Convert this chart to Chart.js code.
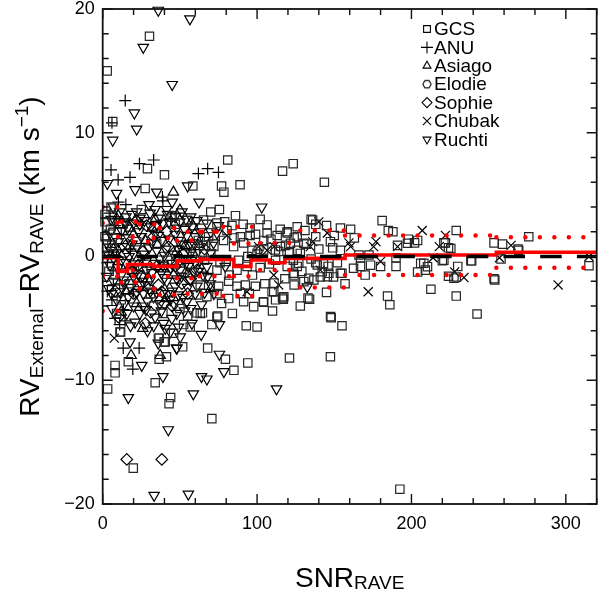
<!DOCTYPE html>
<html lang="en">
<head>
  <meta charset="UTF-8" />
  <title>RV external - RV RAVE vs SNR</title>
  <script src="https://cdn.jsdelivr.net/npm/chart.js@4.4.0/dist/chart.umd.min.js"></script>
  <style>
    html, body { margin: 0; padding: 0; background: #fff; }
  </style>
</head>
<body>
  <canvas id="rvChart" width="614" height="592"></canvas>

  <script>
    // [SNR_RAVE, RV_external - RV_RAVE] per external catalogue
    const gcs = [
      [30.3,17.8],[2.9,15.0],[6.5,10.9],[81,7.8],[29,7.1],[116.5,6.9],[123.4,7.5],[40,6.6],[58.4,5.7],[89,5.8],
      [77,5.7],[78.5,5.2],[27.5,5.5],[75.6,3.8],[135,3.0],[5.4,4.0],[1.5,3.4],[143.6,6.0],
      [136,2.95],[181,2.9],[188,2.0],[229,2.1],[276,1.6],[253.5,1.1],[259,1.0],[269.5,0.5],[315,-0.75],[253.5,-1.8],
      [258,-0.2],[229,-1.65],[224,0.7],[221,1.1],[212.6,-2.65],[221,-0.3],[239,-0.35],[229,-3.2],[184.5,-3.2],
      [206,-0.55],[204,-1.25],[202,1.1],[198,1.4],[191,0.9],[180,-0.8],[190,-0.1],
      [134,-3.45],[186,-3.9],[242.5,-4.65],[148,-4.95],[155,-5.6],[147.5,-8.1],[192.5,-18.8],
      [93,-5.6],[100,-5.7],[121,-8.2],[94,-8.6],[85,-9.2],[79.5,-8.3],[68,-7.4],[70.7,-13.1],[44,-11.4],[43,-11.9],
      [34,-10.2],[3.2,-10.7],[8,-9.4],[8,-8.8],[19.8,-17.1],[16.6,-8.5],[11.6,-6.1],[36.6,-8.3],[41.3,-8.1],
      [36.6,-6.6],[39.8,-6.9],[51.8,-7.3],[61,-4.55],[64.6,-4.55],[74.5,-4.8],[70.7,-5.5],[104,-3.7],[112,-3.5],
      [117,-3.45],[110.8,-2.85],
      [106.5,2.55],[106.5,1.9],[119.5,1.9],[126,1.6],[147.5,1.2],[154,2.3],[160.6,2.2],[149,0.7],[154,0.5],
      [185,2.1],[190,-0.8],[173.5,-0.7],[167,-0.8],[162.5,-0.95],[155,-1.35],[149.5,-1.65],[141,-1.65],[146,-0.8],
      [111,-2.15],[116.5,-3.35],[133,-3.35],[209,-1.1],[204,1.3],[123.5,-0.3],[126,-0.8],[123.5,-1.35],[128,0.25],
      [222,1.1],[225.5,0.65],[220,-0.35],[208,-0.55],[230,-0.8],[224,-1.6],[227.5,-1.75],[238.5,-0.35],[269,0.6],
      [254,-1.9],
      [1.5,2.8],[74,2.7],[83.7,2.5],[65.3,2.95],[95.5,2.3],[119.5,2.0],[126,2.4],[68.6,1.6],[80.5,2.1],[89.2,1.6],
      [95.5,1.7],[104.3,1.3],[113,1.7],[118.4,0.9],[124,1.5],[65.3,0.9],[78.3,1.3],[84.8,0.8],[91.3,1.1],[96.7,0.5],
      [126,0.5],[74,-1.1],[87,-1.1],[93.5,-0.8],[119.5,-0.8],[124,-1.5],[124,-2.3],[117.3,-3.25],[109.7,-2.85],
      [104.3,-3.65],[63.2,-2.3],[75.1,-2.4],[81.6,-2.0],[87,-2.4],[92.4,-2.3],[98.9,-2.4],[61,-3.1],[67.5,-3.25],
      [74,-3.0],[81.6,-3.4],[89.2,-3.0],[91.3,-3.65],[97.8,-4.05],[52.4,-5.5],[63.2,-4.6],[74,-4.9],[11.2,-6.1],
      [36.1,-6.6],[40.5,-6.9],[45.9,-6.2],[56.7,-5.7],[1.5,1.6],[2.6,0.65],
      [104.3,0.53],[111.9,0.53],[115.1,0.8],[121.6,1.07],[130.3,1.07],[127,-0.55],[139,-0.69],[142.2,-1.23],
      [146.5,-1.36],[154,-1.36],[133.5,-1.76],[130.3,-2.03],[136.8,-1.9],[145.5,-1.63],[166,0.12],[172.5,0.12],
      [197.4,1.07],[210.4,-0.82],[147.6,-4.86],[167,-0.1],
      [5,2.2],[8,-1.5],[12,-3.5],[25,3.8],[45,3.3],[50,-4.2],[55,2.9],[33,-4.0],[60,0.4],[58,-1.3],[70,0.2],
      [80,-0.4],[100,0.2],[108,-0.6],[114,0.4],[132,1.0],[138,-0.5],[140,0.6],[145,2.5],
      [4,-1.2],[6,0.9],[9,-4.6],[13,2.6],[17,-2.2],[22,1.2],[26,-1.0],[31,-3.0],[35,1.0],[39,-4.6],[42,-0.3],
      [47,2.6],[51,-1.0],[55,-4.8],[58,0.0],[62,1.3],[66,-0.3],[69,-1.8],[72,0.8],[76,-0.5],[79,2.8],[82,-1.5],
      [85,1.5],[88,-0.3],[91,2.6],[94,0.0],[97,-1.5],[99,1.8],[102,-0.9],[105,-2.2],[109,1.4],[112,-0.3],
      [115,2.2],[118,-1.8],[121,0.3],[129,-1.2],[131,2.1],[135,-0.2],[138,1.6],[143,-0.6],[150,1.7],[152,-0.5],
      [157,-2.2],[163,1.5],[170,-1.5],[77,-3.8],[84,-4.6],[70,3.6],[86,3.3],[95,-3.0],[102,3.0],[110,-4.4],
      [128,-4.0],[138,2.6],[145,-2.9]
    ];
    const anu = [
      [14.6,12.6],[6,10.8],[33,7.8],[23.8,7.5],[5.4,7.0],[68,7.1],[62,6.7],[75,6.8],[17.7,6.4],[10,6.2],
      [38.7,4.8],[39,4.5],[15,4.2],[10.2,4.4],[8,2.5],[9,3.2],[6.9,-1.1],[6.9,-2.3],[19.9,-2.85],[13.4,-4.3],
      [13.3,-7.4],[23.6,-7.4],[19.5,-9.1],[5,1.0],[3,-0.5],[12,1.8],[4.8,3.5],[18,0.6],[44,3.0],[26,-0.3],
      [11,-5.5],[7.5,2.3],[14.5,-5.2],[4,1.8],[6,-3.5],[9,0.0],[11,-2.2],[13,2.8],[16,-1.0],[3,-2.8],[8,-5.0]
    ];
    const asiago = [
      [45.8,5.2],[18.4,-8.0],[37.2,-8.0],[17.7,2.3],[58.8,2.4],[27.5,1.3],[53.4,0.9],[39.4,-1.0],[24.2,-2.2],
      [10,3.3],[32,2.3],[46,-1.5],[22,-3.8],[12,-4.5],[50,3.75],[7,0.6],[15,-2.8],[20,1.8],[29,-1.8],[34,3.0],
      [41,-3.4],[48,0.4],[55,-1.4],[63,0.8],[70,-2.6],[26,-5.8]
    ];
    const elodie = [[44,3.2],[101,0.6]];
    const sophie = [
      [15.6,-16.4],[38.3,-16.4],[28.5,2.5],[41.5,2.0],[42.6,0.8],[23.1,-0.7],[61,-1.1],[36.1,-2.3],[51.3,-2.2],
      [38.3,-2.85],[10.2,-4.9],[27.5,-5.4],[20,-3.0],[30,-2.6],[45,-4.0],[55,-3.0],[33,1.6],[25,-1.6],[16,1.0],
      [8,-2.8],[14,0.2],[19,-1.2],[26,0.4],[31,-4.5],[35,-0.8],[40,-3.8],[47,-0.8],[52,0.2],[57,-1.8],[66,0.6],
      [22,2.9]
    ];
    const chubak = [
      [140,2.8],[207,2.1],[222,1.7],[264.5,0.9],[315,0.0],[295,-2.3],[257,-0.1],[228,-1.25],[234,-1.7],[218,0.8],
      [214,-0.1],[172,-2.85],[180,-0.4],[145.5,1.9],[136,1.2],[134.5,0.8],[159.5,1.1],[160.6,0.8],[177,1.2],
      [175.5,0.8],[191,0.8],[114,-2.3],[141,-1.1],[111,0.8],[106.5,0.5],[80.5,1.7],[101,0.8],[110.8,-1.5],
      [93.5,-2.85],[7.5,-6.6]
    ];
    const ruchti = [
      [36,19.9],[56.5,19.2],[26.3,16.9],[45,13.9],[20.5,11.6],[22,10.3],[6.5,9.4],[3,5.9],[55,5.7],[21,5.4],
      [35,5.2],[9,5.1],[62.4,4.4],[103,4.0],[112.6,-10.7],[78.5,-9.3],[75.6,-7.9],[64,-9.7],[67.5,-9.9],
      [58.7,-11.1],[39,-9.7],[42.5,-14.0],[16.6,-11.4],[33.3,-19.3],[55.5,-19.2],[25.3,-8.8],[47.9,-7.4],
      [63.8,-6.3],[75.6,-5.5],[132.5,-2.45],
      [6.9,4.0],[14.5,2.8],[18.8,3.4],[24.2,3.1],[30.7,3.5],[36.1,3.1],[41.5,3.8],[46.9,3.2],[51.3,3.6],[61,2.9],
      [67.5,2.7],[75,2.5],[4.7,1.9],[12.3,2.1],[23.1,2.0],[34,1.9],[48,2.3],[54.5,1.7],[63.2,2.0],[74,1.9],
      [2.6,1.1],[10.2,1.2],[16.6,1.5],[22,0.8],[31.8,1.1],[38.3,1.3],[49.1,1.3],[58.8,1.1],[71.8,1.1],[4.7,-0.7],
      [12.3,-0.3],[17.7,-1.1],[28.5,-1.1],[34,-0.55],[44.8,-0.55],[50.2,-1.1],[55.6,-0.8],[67.5,-0.8],[79.4,-0.8],
      [2.6,-1.6],[13.4,-1.9],[19.9,-1.6],[30.7,-1.9],[41.5,-2.0],[46.9,-2.4],[56.7,-1.9],[69.7,-2.2],[5.8,-3.0],
      [11.2,-2.85],[16.6,-3.25],[26.4,-3.0],[32.9,-3.25],[43.7,-3.5],[49.1,-3.1],[54.5,-3.65],[15.6,-4.6],
      [21,-5.3],[34,-4.9],[39.4,-5.4],[44.8,-5.0],[49.1,-5.7],[57.8,-5.4],[17.7,-6.9],[48,-7.4],[40.5,-5.8],
      [43.7,-6.1],[50.2,-6.5],
      [9,0.3],[27,0.2],[40,0.1],[52,-0.2],[62,0.5],[15,-0.5],[24,2.6],[37,-3.8],[28,-4.3],[20,-4.0],[60,-3.0],
      [65,-1.5],[8,2.8],[30,4.2],[45,4.4],[25,-2.3],[57,3.2],[20,0.2],[35,0.5],[43,2.8],[52,1.0],[60,-0.5],
      [14,-2.2],[38,-1.3],[48,-1.8],[53,-4.4],[29,-6.0],[36,-7.0],
      [5,0.5],[7,-2.0],[8,1.6],[10,-0.9],[11,3.6],[13,0.8],[14,-3.8],[16,2.3],[17,0.0],[18,-2.5],[19,1.0],
      [21,-0.6],[22,3.6],[23,-1.4],[24,-4.6],[25,1.6],[26,-2.0],[27,2.9],[28,-0.4],[29,-3.6],[30,0.7],[31,2.4],
      [32,-1.3],[33,-5.6],[34,3.8],[35,-2.9],[36,1.7],[37,-0.2],[38,-4.4],[39,2.7],[40,-1.7],[41,0.6],[42,-3.0],
      [43,1.4],[44,-0.9],[45,-2.8],[46,0.2],[47,1.8],[48,-4.6],[49,0.6],[50,2.8],[51,-1.6],[52,-3.3],[53,2.2],
      [54,-0.5],[55,-2.5],[56,0.9],[57,-4.2],[58,2.4],[59,-1.2],[60,1.6],[61,-2.4],[63,-0.3],[64,-3.9],[66,1.3],
      [68,-1.6],[70,0.3],[72,-3.0],[6,-4.2],[9,-3.5],[12,-1.5],[15,3.2],[18,-5.6],[20,2.7],[22,-2.9],[26,-4.0],
      [31,-2.8],[35,2.6],[39,-0.7],[42,3.4],[46,-3.8],[50,-0.3],[54,3.0],[57,0.3],[62,-1.2],[66,-2.9],[70,2.0],
      [3.5,0.2],[4,-2.6],[5.5,3.0],[7,-0.1]
    ];

    // binned statistics: running mean and scatter bands (step functions over SNR bins)
    const meanEdges = [0, 10, 16, 33, 48, 63, 85, 96, 108, 118, 157, 255, 320];
    const meanVals = [-0.1, -1.2, -0.65, -0.8, -0.35, -0.23, -0.8, -0.28, -0.5, -0.15, 0.12, 0.34];
    const bandEdges = [0, 10, 20, 33, 48, 63, 85, 102, 128, 157, 255, 320];
    const bandUpper = [2.7, 1.6, 1.2, 1.5, 1.3, 2.0, 1.06, 1.1, 2.1, 1.7, 1.55];
    const bandLower = [-1.6, -1.1, -1.6, -1.6, -1.75, -1.6, -1.6, -1.1, -2.5, -1.5, -0.9];
    const outerEdges = [0, 12, 24, 37, 55, 78, 102];
    const outerUpper = [4.0, 2.8, 2.6, 2.3, 2.0, 2.4];
    const outerLower = [-4.4, -2.1, -2.6, -3.1, -3.0, -3.2];

    const snrRange = [0, 320];
    const rvRange = [-20, 20];
    const zeroLevel = 0;

    const FONT = '"Liberation Sans", Arial, Helvetica, sans-serif';

    const toPoints = arr => arr.map(p => ({ x: p[0], y: p[1] }));

    function stepPoints(edges, vals, broken) {
      const out = [];
      vals.forEach((v, i) => {
        out.push({ x: edges[i], y: v }, { x: edges[i + 1], y: v });
        if (broken) out.push({ x: edges[i + 1], y: null });
      });
      return out;
    }

    // open hexagon used for the Elodie points
    function hexagonImage(r, lw) {
      const c = document.createElement('canvas');
      const s = Math.ceil(2 * r + lw + 2);
      c.width = c.height = s;
      const g = c.getContext('2d');
      g.lineWidth = lw;
      g.strokeStyle = '#111';
      g.beginPath();
      for (let k = 0; k < 6; k++) {
        const a = Math.PI / 3 * k;
        const px = s / 2 + r * Math.cos(a), py = s / 2 + r * Math.sin(a);
        if (k) g.lineTo(px, py); else g.moveTo(px, py);
      }
      g.closePath();
      g.stroke();
      return c;
    }

    const series = [
      { label: 'GCS', data: gcs, style: 'rect', rot: 0, r: 5.9, lr: 4.8 },
      { label: 'ANU', data: anu, style: 'cross', rot: 0, r: 6, lr: 6 },
      { label: 'Asiago', data: asiago, style: 'triangle', rot: 0, r: 6, lr: 4.6 },
      { label: 'Elodie', data: elodie, style: hexagonImage(5.2, 1.2), rot: 0, r: 5, lr: 4.2, img: hexagonImage(4.2, 1.1) },
      { label: 'Sophie', data: sophie, style: 'rectRot', rot: 0, r: 5.8, lr: 5 },
      { label: 'Chubak', data: chubak, style: 'crossRot', rot: 0, r: 6.4, lr: 5.8 },
      { label: 'Ruchti', data: ruchti, style: 'triangle', rot: 180, r: 6, lr: 4.6 }
    ];

    const markerSets = series.map(s => ({
      label: s.label,
      data: toPoints(s.data),
      showLine: false,
      pointStyle: s.style,
      rotation: s.rot,
      pointRadius: s.r,
      pointBackgroundColor: 'rgba(0,0,0,0)',
      pointBorderColor: s.label === 'GCS' ? '#262626' : '#000',
      pointBorderWidth: 1.2,
      clip: false,
      order: 10
    }));

    const dotted = (data, order) => ({
      data: data,
      showLine: true,
      pointRadius: 0,
      borderColor: '#ff0000',
      borderWidth: 4.5,
      borderDash: [0, 14.5],
      borderCapStyle: 'round',
      spanGaps: false,
      order: order
    });

    const lineSets = [
      {
        label: 'zero',
        data: snrRange.map(x => ({ x: x, y: zeroLevel })),
        showLine: true,
        pointRadius: 0,
        borderColor: '#000',
        borderWidth: 3.6,
        borderDash: [21.5, 15.2],
        borderDashOffset: 2.9,
        order: 1
      },
      {
        label: 'mean',
        data: stepPoints(meanEdges, meanVals, false),
        showLine: true,
        pointRadius: 0,
        borderColor: '#ff0000',
        borderWidth: 3.6,
        order: 2
      },
      dotted(stepPoints(bandEdges, bandUpper, true), 3),
      dotted(stepPoints(bandEdges, bandLower, true), 3),
      dotted(stepPoints(outerEdges, outerUpper, true), 3),
      dotted(stepPoints(outerEdges, outerLower, true), 3)
    ];

    function drawRich(ctx, parts, x, y) {
      let total = 0;
      parts.forEach(p => {
        ctx.font = p[1] + 'px ' + FONT;
        p.w = ctx.measureText(p[0]).width;
        total += p.w;
      });
      let cx = x - total / 2;
      parts.forEach(p => {
        ctx.font = p[1] + 'px ' + FONT;
        ctx.fillText(p[0], cx, y + p[2]);
        cx += p.w;
      });
    }

    function legendMarker(ctx, s, x, y) {
      const r = s.lr;
      ctx.beginPath();
      if (s.img) {
        ctx.drawImage(s.img, x - s.img.width / 2, y - s.img.height / 2);
        return;
      }
      if (s.style === 'rect') {
        const h = r * Math.SQRT1_2;
        ctx.rect(x - h, y - h, 2 * h, 2 * h);
      } else if (s.style === 'cross') {
        ctx.moveTo(x - r, y); ctx.lineTo(x + r, y);
        ctx.moveTo(x, y - r); ctx.lineTo(x, y + r);
      } else if (s.style === 'crossRot') {
        const h = r * Math.SQRT1_2;
        ctx.moveTo(x - h, y - h); ctx.lineTo(x + h, y + h);
        ctx.moveTo(x - h, y + h); ctx.lineTo(x + h, y - h);
      } else if (s.style === 'rectRot') {
        ctx.moveTo(x - r, y); ctx.lineTo(x, y - r);
        ctx.lineTo(x + r, y); ctx.lineTo(x, y + r); ctx.closePath();
      } else if (s.style === 'triangle') {
        const dir = s.rot === 180 ? -1 : 1;
        const c = Math.sqrt(3) / 2 * r;
        ctx.moveTo(x, y - dir * r);
        ctx.lineTo(x + c, y + dir * r / 2);
        ctx.lineTo(x - c, y + dir * r / 2);
        ctx.closePath();
      }
      ctx.stroke();
    }

    // frame with inward ticks, axis titles and the legend
    const decorations = {
      id: 'decorations',
      afterDraw(chart) {
        const ctx = chart.ctx;
        const a = chart.chartArea;
        const xs = chart.scales.x, ys = chart.scales.y;
        ctx.save();
        ctx.strokeStyle = '#111';
        ctx.lineWidth = 1.4;
        for (let v = 0; v <= snrRange[1]; v += 20) {
          const px = xs.getPixelForValue(v);
          const len = v % 100 === 0 ? 10 : 6;
          ctx.beginPath();
          ctx.moveTo(px, a.bottom); ctx.lineTo(px, a.bottom - len);
          ctx.moveTo(px, a.top); ctx.lineTo(px, a.top + len);
          ctx.stroke();
        }
        for (let v = rvRange[0]; v <= rvRange[1]; v += 2) {
          const py = ys.getPixelForValue(v);
          const len = v % 10 === 0 ? 10 : 6;
          ctx.beginPath();
          ctx.moveTo(a.left, py); ctx.lineTo(a.left + len, py);
          ctx.moveTo(a.right, py); ctx.lineTo(a.right - len, py);
          ctx.stroke();
        }
        ctx.lineWidth = 1.8;
        ctx.strokeRect(a.left, a.top, a.right - a.left, a.bottom - a.top);

        ctx.fillStyle = '#000';
        ctx.textBaseline = 'alphabetic';
        ctx.textAlign = 'left';
        drawRich(ctx, [['SNR', 28, 0], ['RAVE', 19, 2]], (a.left + a.right) / 2, 587);

        ctx.save();
        ctx.translate(39, (a.top + a.bottom) / 2);
        ctx.rotate(-Math.PI / 2);
        drawRich(ctx, [
          ['RV', 28, 0], ['External', 19, 4], ['\u2212RV', 28, 0], ['RAVE', 19, 4],
          [' (km s', 28, 0], ['\u22121', 19, -11], [')', 28, 0]
        ], 0, 0);
        ctx.restore();

        ctx.lineWidth = 1.1;
        ctx.strokeStyle = '#000';
        ctx.font = '19px ' + FONT;
        ctx.textBaseline = 'middle';
        series.forEach((s, i) => {
          const y = 29 + i * 18.4;
          legendMarker(ctx, s, 427, y);
          ctx.fillText(s.label, 434, y + 1);
        });
        ctx.restore();
      }
    };

    const tickFont = { family: FONT, size: 18 };

    // keep the plot box fixed: no extra padding for overhanging tick labels
    function noPad(s) {
      s.paddingTop = 0; s.paddingBottom = 0; s.paddingLeft = 0; s.paddingRight = 0;
    }

    new Chart(document.getElementById('rvChart'), {
      type: 'scatter',
      data: { datasets: lineSets.concat(markerSets) },
      options: {
        responsive: false,
        animation: false,
        events: [],
        layout: { padding: { top: 9, right: 17.3, left: 0, bottom: 0 } },
        plugins: {
          legend: { display: false },
          tooltip: { enabled: false }
        },
        scales: {
          x: {
            type: 'linear',
            min: snrRange[0],
            max: snrRange[1],
            grid: { display: false, drawTicks: false },
            border: { display: false },
            ticks: { stepSize: 100, includeBounds: false, padding: 9, color: '#000', font: tickFont, maxRotation: 0 },
            afterFit: s => { s.height = 88; noPad(s); }
          },
          y: {
            type: 'linear',
            min: rvRange[0],
            max: rvRange[1],
            grid: { display: false, drawTicks: false },
            border: { display: false },
            ticks: {
              stepSize: 10,
              padding: 8,
              color: '#000',
              font: tickFont,
              callback: v => String(v).replace('-', '\u2212')
            },
            afterFit: s => { s.width = 102.7; noPad(s); }
          }
        }
      },
      plugins: [decorations]
    });
  </script>
</body>
</html>
